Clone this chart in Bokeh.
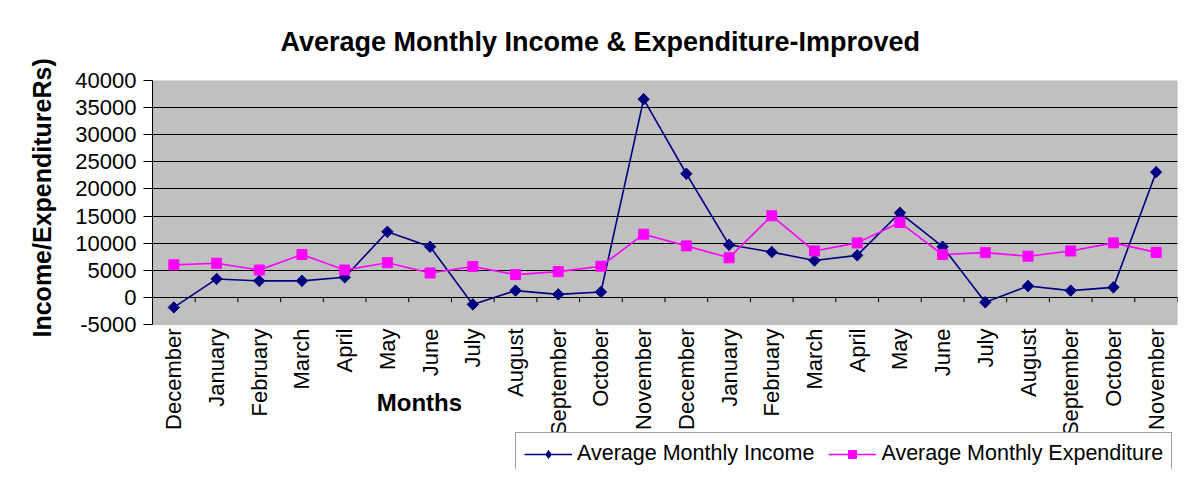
import math
from bokeh.plotting import figure
from bokeh.models import (FixedTicker, Legend, LegendItem, Range1d, Title, Label,
                          BoxAnnotation)
from bokeh.core.properties import value
from bokeh.embed import file_html
from bokeh.resources import INLINE

months = ["December", "January", "February", "March", "April", "May", "June",
          "July", "August", "September", "October", "November",
          "December", "January", "February", "March", "April", "May", "June",
          "July", "August", "September", "October", "November"]
income = [-1850, 3400, 3050, 3050, 3700, 12100, 9350, -1300, 1250, 550, 1000, 36550,
          22800, 9700, 8350, 6800, 7750, 15600, 9350, -900, 2100, 1250, 1850, 23100]
expenditure = [6000, 6300, 5050, 7900, 5050, 6400, 4500, 5700, 4200, 4750, 5750, 11650,
               9500, 7300, 15050, 8550, 10050, 13800, 7900, 8250, 7600, 8550, 10050, 8300]
y_ticks = [-5000, 0, 5000, 10000, 15000, 20000, 25000, 30000, 35000, 40000]

FONT = "Liberation Sans"
n = len(months)
xs = [i + 0.5 for i in range(n)]
bounds = list(range(n + 1))

# layout (figure pixels)
W, H = 1180, 469
FRAME_LEFT, FRAME_RIGHT_PAD, FRAME_TOP = 152, 3, 80
PLOT_BOTTOM = 324          # where the -5000 line sits
y_min, y_max = y_ticks[0], y_ticks[-1]
units_per_px = (y_max - y_min) / (PLOT_BOTTOM - FRAME_TOP)
y_lo = y_min - (H - PLOT_BOTTOM) * units_per_px

p = figure(width=W, height=H, output_backend="svg", toolbar_location=None,
           x_range=Range1d(0, n), y_range=Range1d(y_lo, y_max),
           x_axis_location=None,
           min_border_left=FRAME_LEFT, min_border_right=FRAME_RIGHT_PAD,
           min_border_top=FRAME_TOP, min_border_bottom=0,
           background_fill_color="white", border_fill_color="white")
p.outline_line_color = None

p.title.text = "Average Monthly Income & Expenditure-Improved"
p.title.align = "left"
p.title.offset = 128
p.title.vertical_align = "middle"
p.title.text_font = FONT
p.title.text_font_size = "27px"
p.title.text_font_style = "bold"
p.title.text_color = "black"
p.title.standoff = 45

# grey plot area
p.add_layout(BoxAnnotation(left=0, right=n, bottom=y_min, top=y_max,
                           fill_color="#C0C0C0", fill_alpha=1,
                           line_color="#808080", line_width=1.5, level="image"))

p.xgrid.visible = False
p.ygrid.ticker = FixedTicker(ticks=[t for t in y_ticks if y_min < t < y_max])
p.ygrid.grid_line_color = "black"
p.ygrid.grid_line_width = 1

# y axis
p.yaxis.ticker = FixedTicker(ticks=y_ticks)
p.yaxis.bounds = (y_min, y_max)
p.yaxis.major_label_overrides = {t: str(t) for t in y_ticks}
p.yaxis.axis_line_color = "black"
p.yaxis.major_tick_line_color = "black"
p.yaxis.major_tick_out = 9
p.yaxis.major_tick_in = 0
p.yaxis.minor_tick_line_color = None
p.yaxis.major_label_standoff = 7
p.yaxis.major_label_text_font = FONT
p.yaxis.major_label_text_font_size = "22px"
p.yaxis.major_label_text_color = "black"

p.add_layout(Title(text="Income/ExpenditureRs)", align="left", offset=132,
                   vertical_align="middle", standoff=31,
                   text_font=FONT, text_font_size="25px", text_font_style="bold",
                   text_color="black"), "left")

# month labels under the plot area, reading upwards
p.text(x=xs, y=[y_min] * n, text=months, angle=math.pi / 2,
       text_align="right", text_baseline="middle", y_offset=4,
       text_font=value(FONT), text_font_size="22px", text_color="black")

# category tick marks on the zero line
p.segment(x0=bounds, y0=[0] * len(bounds), x1=bounds, y1=[-900] * len(bounds),
          line_color="black", line_width=1)

r1 = p.line(xs, income, line_color="#000080", line_width=1.6)
# diamond renderer (used for the legend swatch; hidden under the rotated squares)
r2_key = p.scatter(xs, income, marker="diamond", size=11,
                   fill_color="#000080", line_color="#000080")
r2 = p.scatter(xs, income, marker="square", angle=math.pi / 4, size=8,
               fill_color="#000080", line_color="#000080")
r3 = p.line(xs, expenditure, line_color="#FF00FF", line_width=1.6)
r4 = p.scatter(xs, expenditure, marker="square", size=10,
               fill_color="#FF00FF", line_color="#FF00FF")

months_y = y_min - (402 - PLOT_BOTTOM) * units_per_px
p.add_layout(Label(x=6.25, y=months_y, text="Months", text_align="center",
                   text_baseline="middle", text_font=FONT, text_font_size="24px",
                   text_font_style="bold", text_color="black"))

legend = Legend(items=[LegendItem(label="Average Monthly Income", renderers=[r1, r2_key]),
                       LegendItem(label="Average Monthly Expenditure", renderers=[r3, r4])],
                orientation="horizontal", location=(515 - FRAME_LEFT, -6),
                label_text_font=FONT, label_text_font_size="21.5px", label_text_color="black",
                glyph_width=48, glyph_height=20, label_standoff=5, spacing=14,
                padding=8, margin=0, label_height=22,
                border_line_color="#404040", border_line_width=1,
                background_fill_color="white", background_fill_alpha=1)
p.add_layout(legend, "center")

open("out.html", "w").write(file_html(p, INLINE))
